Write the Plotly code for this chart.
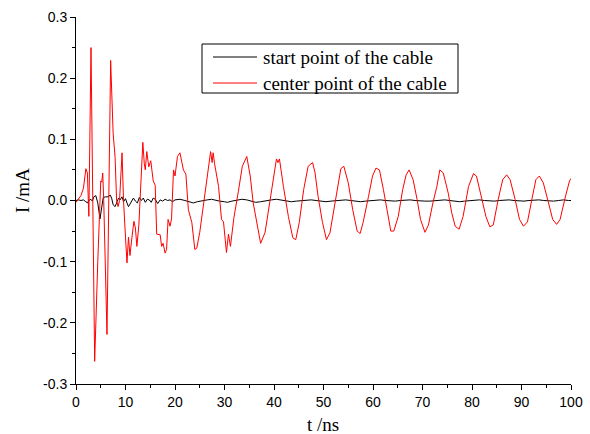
import plotly.graph_objects as go

# ---- data ----
t_center = [0, 0.5, 1.0, 1.5, 2.0, 2.3, 2.6, 3.03, 3.77, 4.4, 5.0, 5.2, 5.4, 5.6, 6.26, 7.0, 7.5, 7.9,
            8.2, 8.5, 8.8, 9.3, 9.6, 10.0, 10.3, 10.6, 10.9, 11.3, 11.7, 12.0, 12.3, 12.7, 13.5, 13.8,
            14.0, 14.3, 14.7, 15.1, 15.6, 16.0, 16.3, 17.0, 17.3, 17.6, 18.0, 18.3, 18.6, 19.0, 19.3,
            19.7, 20.0, 20.5, 21.0, 21.7, 22.2, 22.7, 23.4, 24.0, 24.4, 25.0, 26.1, 26.4, 27.2, 27.5,
            27.7, 28.0, 28.8, 29.4, 29.8, 30.4, 30.8, 31.2, 31.9, 32.8, 33.6, 34.5, 35.2, 35.8, 36.5,
            37.3, 38.2, 39.2, 39.9, 40.5, 40.8, 41.1, 41.9, 42.9, 43.8, 44.4, 45.1, 46.0, 46.9, 47.8,
            48.3, 48.9, 49.8, 50.6, 51.3, 52.0, 52.8, 53.5, 54.1, 55.0, 55.9, 56.8, 57.4, 58.0, 59.1,
            59.9, 60.6, 61.3, 62.1, 62.9, 63.6, 64.2, 65.1, 66.0, 66.7, 67.3, 68.1, 68.9, 69.6, 70.5,
            71.2, 72.1, 72.9, 73.5, 74.2, 75.2, 75.9, 76.6, 77.4, 78.2, 79.3, 80.3, 80.9, 82.0, 82.8,
            83.6, 84.3, 85.3, 86.2, 87.0, 87.7, 88.7, 89.6, 90.4, 91.2, 92.1, 92.9, 93.6, 94.4, 95.4,
            96.3, 97.1, 97.8, 98.8, 99.7, 100.0]
i_center = [-0.003, 0.003, 0.008, 0.02, 0.052, 0.045, -0.026, 0.25, -0.263, -0.1, 0.032, 0.03, 0.045,
            0.0, -0.219, 0.229, 0.11, 0.07, 0.0, -0.01, 0.0, 0.078, 0.0, -0.06, -0.102, -0.06, -0.09,
            -0.06, -0.034, -0.045, -0.075, -0.04, 0.095, 0.06, 0.05, 0.08, 0.055, 0.065, 0.032, 0.025,
            -0.055, -0.056, -0.075, -0.07, -0.086, -0.08, -0.031, -0.042, -0.03, 0.05, 0.04, 0.072,
            0.078, 0.05, 0.043, -0.015, -0.036, -0.08, -0.078, -0.052, 0.015, 0.032, 0.08, 0.062,
            0.078, 0.06, 0.023, -0.031, -0.035, -0.085, -0.055, -0.075, -0.028, 0.015, 0.056, 0.072,
            0.04, -0.004, -0.036, -0.07, -0.052, 0.002, 0.04, 0.068, 0.062, 0.068, 0.023, -0.026,
            -0.061, -0.064, -0.036, 0.018, 0.056, 0.062, 0.045, 0.007, -0.036, -0.064, -0.053, -0.02,
            0.023, 0.052, 0.056, 0.029, -0.015, -0.05, -0.054, -0.036, 0.007, 0.04, 0.053, 0.05,
            0.018, -0.02, -0.05, -0.05, -0.026, 0.018, 0.042, 0.05, 0.034, 0.002, -0.031, -0.052,
            -0.04, -0.004, 0.023, 0.05, 0.045, 0.012, -0.02, -0.042, -0.047, -0.026, 0.023, 0.044,
            0.04, 0.002, -0.026, -0.043, -0.04, 0.002, 0.034, 0.042, 0.034, 0.002, -0.031, -0.042,
            -0.035, 0.002, 0.034, 0.04, 0.029, -0.002, -0.031, -0.039, -0.031, 0.004, 0.032, 0.036]

t_start = [0, 0.5, 1.0, 1.5, 2.0, 2.3, 2.6, 3.0, 3.3, 3.6, 4.0, 4.4, 4.85, 5.2, 5.5, 6.0, 6.5, 6.9,
           7.2, 7.5, 7.9, 8.3, 8.6, 8.9, 9.3, 9.6, 10.0, 10.3, 10.6, 10.9, 11.2, 11.6, 12.0, 12.4,
           12.8, 13.2, 13.6, 14.0, 14.4, 14.8, 15.2, 15.6, 16.0, 16.5, 17.0, 17.5, 18.0, 18.5, 19.0,
           19.5, 20.0, 21.0, 22.0, 23.0, 23.7, 24.5, 25.5, 26.5, 27.4, 28.3, 29.0, 30.0, 30.6, 31.5,
           32.5, 33.5, 34.5, 35.5, 36.3, 37.3, 38.5, 39.5, 40.5, 41.5, 42.5, 43.5, 44.5, 45.5, 46.5,
           47.5, 48.5, 49.5, 50.5, 51.5, 52.5, 53.5, 54.5, 55.5, 56.5, 57.5, 58.5, 59.5, 60.5, 61.5,
           62.5, 63.5, 64.5, 65.5, 66.5, 67.5, 68.5, 69.5, 70.5, 71.5, 72.5, 73.5, 74.5, 75.5, 76.5,
           77.5, 78.5, 79.5, 80.5, 81.5, 82.5, 83.5, 84.5, 85.5, 86.5, 87.5, 88.5, 89.5, 90.5, 91.5,
           92.5, 93.5, 94.5, 95.5, 96.5, 97.5, 98.5, 99.5, 100.0]
i_start = [0.0, 0.001, 0.0, 0.001, -0.002, -0.004, 0.0, 0.002, -0.001, 0.006, 0.008, -0.004, -0.03,
           -0.008, 0.005, 0.006, 0.006, 0.009, 0.004, -0.007, -0.01, -0.002, 0.004, 0.001, 0.006,
           -0.002, 0.003, -0.004, -0.01, -0.006, -0.002, 0.004, -0.001, -0.004, 0.005, 0.0, 0.004,
           -0.003, 0.002, 0.001, -0.003, 0.004, 0.002, -0.005, 0.001, -0.001, 0.002, 0.0, 0.001,
           -0.002, 0.001, 0.002, 0.0, -0.002, -0.004, -0.002, 0.0, 0.001, 0.002, 0.0, -0.001, -0.002,
           -0.003, -0.001, 0.001, 0.002, 0.001, -0.001, -0.003, -0.002, 0.0, 0.001, 0.002, 0.001,
           -0.001, -0.002, -0.001, 0.0, 0.001, 0.001, 0.0, -0.001, -0.002, -0.001, 0.0, 0.001, 0.001,
           0.0, -0.001, -0.002, -0.001, 0.0, 0.001, 0.001, 0.0, -0.001, -0.001, 0.0, 0.001, 0.001,
           0.0, -0.001, -0.001, -0.001, 0.0, 0.001, 0.001, 0.0, -0.001, -0.002, -0.001, 0.0, 0.001,
           0.001, 0.0, -0.001, -0.001, 0.0, 0.001, 0.001, 0.0, -0.001, -0.001, 0.0, 0.001, 0.001,
           0.0, -0.001, -0.001, 0.0, 0.001, 0.0, 0.0]

series_names = ["start point of the cable", "center point of the cable"]
series_colors = ["black", "#ff0000"]

x_ticks = [0, 10, 20, 30, 40, 50, 60, 70, 80, 90, 100]
y_ticks = [-0.3, -0.2, -0.1, 0.0, 0.1, 0.2, 0.3]
y_tick_labels = ["-0.3", "-0.2", "-0.1", "0.0", "0.1", "0.2", "0.3"]
x_title = "t /ns"
y_title = "I /mA"

# ---- layout geometry (pixels in the 590x434 canvas) ----
W, H = 590, 434
L, R, T, B = 76, 19, 17, 50
PW, PH = W - L - R, H - T - B


def px_x(X):
    return (X - L) / PW


def px_y(Y):
    return (H - B - Y) / PH


fig = go.Figure()
fig.add_trace(go.Scatter(x=t_start, y=i_start, mode="lines", name=series_names[0],
                         line=dict(color=series_colors[0], width=1), showlegend=False))
fig.add_trace(go.Scatter(x=t_center, y=i_center, mode="lines", name=series_names[1],
                         line=dict(color=series_colors[1], width=1), showlegend=False))

axis_common = dict(showline=True, linecolor="black", linewidth=1, showgrid=False, zeroline=False,
                   ticks="outside", ticklen=5, tickcolor="black", tickwidth=1, automargin=False,
                   tickfont=dict(family="Liberation Sans, Arial", size=14, color="black"))

serif = "Liberation Serif, Times New Roman, serif"

# legend drawn as a box with line samples and labels
shapes = [dict(type="rect", xref="paper", yref="paper",
               x0=px_x(202), x1=px_x(458), y0=px_y(93), y1=px_y(44),
               line=dict(color="black", width=1), fillcolor="white", layer="above")]
annotations = []
for k, (nm, col) in enumerate(zip(series_names, series_colors)):
    yy = 57 + 26 * k
    shapes.append(dict(type="line", xref="paper", yref="paper",
                       x0=px_x(213), x1=px_x(257), y0=px_y(yy), y1=px_y(yy),
                       line=dict(color=col, width=1), layer="above"))
    annotations.append(dict(text=nm, xref="paper", yref="paper", x=px_x(261), y=px_y(yy),
                            xanchor="left", yanchor="middle", showarrow=False,
                            font=dict(family=serif, size=19, color="black")))

annotations.append(dict(text=x_title, xref="paper", yref="paper", x=px_x(323), y=px_y(424),
                        xanchor="center", yanchor="middle", showarrow=False,
                        font=dict(family=serif, size=19, color="black")))
annotations.append(dict(text=y_title, xref="paper", yref="paper", x=px_x(22), y=px_y(191),
                        xanchor="center", yanchor="middle", showarrow=False, textangle=-90,
                        font=dict(family=serif, size=19, color="black")))

fig.update_layout(
    width=W, height=H,
    margin=dict(l=L, r=R, t=T, b=B, autoexpand=False),
    paper_bgcolor="white", plot_bgcolor="white",
    xaxis=dict(range=[0, 100], tickvals=x_ticks,
               minor=dict(dtick=5, tick0=0, ticks="outside", ticklen=3, tickcolor="black"),
               **axis_common),
    yaxis=dict(range=[-0.3, 0.3], tickvals=y_ticks, ticktext=y_tick_labels,
               minor=dict(dtick=0.05, tick0=0, ticks="outside", ticklen=3, tickcolor="black"),
               **axis_common),
    shapes=shapes,
    annotations=annotations,
    showlegend=False,
)

fig.write_html("out.html")
